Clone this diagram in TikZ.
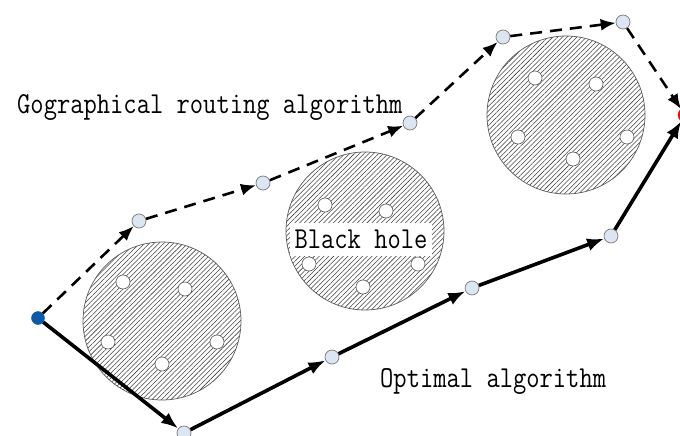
\documentclass[tikz,border=0pt]{standalone}
\usepackage{graphicx}
\usepackage{tikz}
\usetikzlibrary{arrows.meta,patterns.meta}
\definecolor{Outline}{HTML}{5A5A5A}
\definecolor{Hatch}{HTML}{404040}
\definecolor{Relay}{HTML}{DCE6F2}
\definecolor{RelayRim}{HTML}{7A7A7A}
\definecolor{Source}{HTML}{0B5AAA}
\definecolor{Sink}{HTML}{FF0000}
\newcommand{\tallmono}[1]{\scalebox{1}[1.18]{#1}}
\tikzset{
  hole/.style={circle,draw=Outline,line width=.7pt,minimum size=158pt,inner sep=0pt,
    pattern={Lines[angle=45,distance=3.4pt,line width=.55pt]},pattern color=Hatch},
  gap/.style={circle,draw=Outline,fill=white,line width=.6pt,minimum size=14pt,inner sep=0pt},
  relay/.style={circle,draw=RelayRim,fill=Relay,line width=.7pt,minimum size=14pt,inner sep=0pt},
  source/.style={circle,draw=Source,fill=Source,minimum size=13pt,inner sep=0pt},
  sink/.style={circle,draw=Sink,fill=Sink,minimum size=14pt,inner sep=0pt},
  label/.style={font=\fontsize{25.8}{28}\selectfont\ttfamily,inner sep=0pt},
  georoute/.style={-{Latex[length=15pt,width=12pt]},line width=2.6pt,dash pattern=on 12pt off 8pt},
  optroute/.style={-{Latex[length=17pt,width=13pt]},line width=3.6pt}
}

\begin{document}
\begin{tikzpicture}[x=1pt,y=-1pt]
  \clip (0,0) rectangle (680,436);
  % black holes
  \node[hole] (holeA) at (162,321) {};
  \node[hole] (holeB) at (365,231) {};
  \node[hole] (holeC) at (566,115) {};
  \foreach \x/\y [count=\i] in {123/282,185/289,108/342,217/342,162/364}
    \node[gap] (gapA\i) at (\x,\y) {};
  \foreach \x/\y [count=\i] in {325/205,386/211,309/264,418/264,363/287}
    \node[gap] (gapB\i) at (\x,\y) {};
  \foreach \x/\y [count=\i] in {535/78,596/84,518/137,627/137,573/159}
    \node[gap] (gapC\i) at (\x,\y) {};
  \node[label,fill=white,minimum width=142pt,minimum height=33pt] (bhtext) at (361,239) {\tallmono{Black hole}};
  % end points
  \node[source] (src) at (38,318) {};
  \node[sink] (dst) at (685,115) {};
  % geographical route
  \node[relay] (geo1) at (139,221) {};
  \node[relay] (geo2) at (263,183) {};
  \node[relay] (geo3) at (410,123) {};
  \node[relay] (geo4) at (503,37) {};
  \node[relay] (geo5) at (623,22) {};
  % optimal route
  \node[relay] (opt1) at (184,433) {};
  \node[relay] (opt2) at (332,357) {};
  \node[relay] (opt3) at (472,288) {};
  \node[relay] (opt4) at (611,236) {};
  \draw[georoute] (src) -- (geo1);
  \draw[georoute] (geo1) -- (geo2);
  \draw[georoute] (geo2) -- (geo3);
  \draw[georoute] (geo3) -- (geo4);
  \draw[georoute] (geo4) -- (geo5);
  \draw[georoute] (geo5) -- (dst);
  \draw[optroute] (src) -- (opt1);
  \draw[optroute] (opt1) -- (opt2);
  \draw[optroute] (opt2) -- (opt3);
  \draw[optroute] (opt3) -- (opt4);
  \draw[optroute] (opt4) -- (dst);
  \node[label,anchor=base west] (geolabel) at (17,113) {\tallmono{Gographical routing algorithm}};
  \node[label,anchor=base west] (optlabel) at (380,387) {\tallmono{Optimal algorithm}};
\end{tikzpicture}
\end{document}
